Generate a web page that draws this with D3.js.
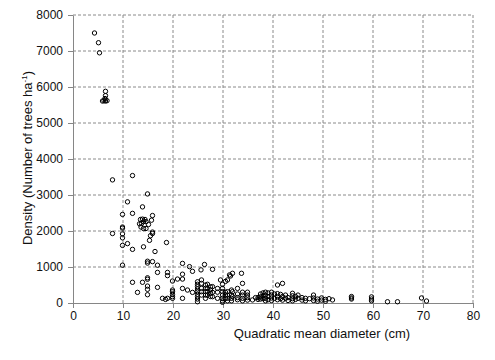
<!DOCTYPE html>
<html>
<head>
<meta charset="utf-8">
<script src="https://cdn.jsdelivr.net/npm/d3@7"></script>
<style>
  body { margin: 0; background: #fff; }
  svg { font-family: Arial, "Liberation Sans", sans-serif; }
</style>
</head>
<body>
<svg id="drawing_region"></svg>
<script>
// quadratic mean diameter (cm) and density (trees/ha)
const qmd = [
  4.3, 5.1, 5.3, 6.5, 6.5, 5.9, 6.2, 6.5, 6.8, 6.4, 7.9, 11.9,
  14.9, 10.9, 13.9, 9.9, 11.9, 15.9, 13.5, 13.9, 14.4, 15.7, 14.1, 14.6,
  13.3, 13.7, 15.1, 13.6, 14.1, 14.6, 9.9, 9.9, 15.9, 15.9, 7.9, 9.9,
  9.9, 15.5, 15.3, 10.9, 9.9, 14.1, 11.9, 16.4, 18.7, 14.9, 14.9, 15.9,
  16.9, 9.9, 21.9, 23.3, 23.9, 26.3, 25.6, 27.9, 16.9, 16.9, 14.9, 14.9,
  14.9, 14.9, 14.9, 11.9, 13.9, 12.9, 17.9, 18.5, 18.9, 18.9, 18.9, 19.9,
  19.9, 19.9, 19.9, 19.9, 19.9, 20.9, 21.9, 21.9, 21.9, 21.9, 22.9, 23.9,
  24.9, 24.9, 24.9, 24.9, 24.9, 24.9, 24.9, 24.9, 24.9, 25.7, 25.7, 25.7,
  25.7, 25.7, 26.5, 26.5, 26.5, 26.5, 26.5, 26.9, 26.9, 26.9, 26.9, 27.5,
  27.5, 27.5, 27.5, 27.9, 27.9, 27.9, 28.9, 28.9, 28.9, 29.5, 29.9, 29.9,
  29.9, 29.9, 29.9, 29.9, 29.9, 30.5, 30.5, 30.5, 30.5, 30.9, 30.9, 30.9,
  30.9, 30.9, 31.3, 31.5, 31.7, 31.7, 31.7, 31.7, 31.9, 31.9, 31.9, 32.9,
  32.9, 32.9, 32.9, 33.7, 33.9, 33.9, 33.9, 33.9, 33.9, 34.9, 34.9, 34.9,
  34.9, 35.9, 36.5, 37.0, 37.0, 37.5, 37.5, 37.5, 38.0, 38.0, 38.0, 38.5,
  38.5, 38.5, 38.5, 39.0, 39.0, 39.0, 39.7, 39.7, 39.7, 39.7, 40.3, 40.3,
  40.9, 40.9, 40.9, 40.9, 41.5, 41.5, 41.9, 41.9, 41.9, 42.5, 42.5, 43.0,
  43.0, 43.9, 43.9, 43.9, 43.9, 44.5, 44.5, 45.0, 45.0, 45.8, 45.8, 46.5,
  46.5, 47.3, 48.1, 48.1, 48.1, 48.9, 48.9, 49.7, 49.7, 50.5, 50.5, 51.2,
  51.9, 55.7, 55.7, 55.7, 59.7, 59.7, 59.7, 62.9, 64.9, 69.7, 70.7
];
const density = [
  7500, 7230, 6950, 5880, 5760, 5610, 5620, 5610, 5620, 5680, 3420, 3540,
  3030, 2810, 2670, 2460, 2490, 2430, 2320, 2330, 2320, 2300, 2260, 2260,
  2200, 2210, 2180, 2110, 2070, 2070, 2110, 2080, 1970, 1930, 1930, 1920,
  1810, 1870, 1740, 1650, 1600, 1560, 1490, 1430, 1680, 1160, 1110, 1150,
  1050, 1050, 1100, 1010, 880, 1070, 920, 935, 850, 435, 700, 660,
  470, 380, 230, 575, 575, 295, 130, 100, 850, 760, 130, 610,
  360, 315, 240, 175, 130, 665, 800, 665, 405, 130, 360, 295,
  590, 520, 455, 390, 315, 240, 175, 110, 35, 640, 545, 405,
  315, 220, 500, 405, 315, 220, 130, 520, 405, 315, 220, 450,
  360, 270, 180, 455, 295, 175, 405, 300, 130, 640, 520, 405,
  315, 220, 130, 60, 20, 600, 300, 220, 130, 640, 315, 220,
  130, 60, 780, 750, 360, 220, 130, 60, 825, 315, 180, 405,
  250, 150, 90, 825, 545, 300, 220, 130, 60, 300, 220, 150,
  80, 85, 150, 150, 100, 250, 170, 110, 280, 200, 120, 300,
  220, 130, 60, 280, 180, 90, 300, 220, 140, 70, 250, 130,
  500, 260, 170, 90, 240, 120, 545, 180, 80, 220, 130, 150,
  70, 270, 200, 120, 60, 180, 100, 220, 130, 150, 80, 130,
  60, 120, 220, 140, 70, 110, 50, 140, 80, 100, 50, 120,
  85, 180, 140, 110, 170, 110, 60, 35, 35, 140, 55
];
const xTicks = [0, 10, 20, 30, 40, 50, 60, 70, 80];
const yTicks = [0, 1000, 2000, 3000, 4000, 5000, 6000, 7000, 8000];

const config = {
    width: 495,
    height: 360,
    margin: {top: 15, right: 22, bottom: 57, left: 73}
};
const inner_w = config.width - config.margin.left - config.margin.right;
const inner_h = config.height - config.margin.top - config.margin.bottom;

const svg = d3.select('#drawing_region')
    .attr('width', config.width)
    .attr('height', config.height);

const chart = svg.append('g')
    .attr('transform', `translate(${config.margin.left}, ${config.margin.top})`);

const xscale = d3.scaleLinear().domain([0, 80]).range([0, inner_w]);
const yscale = d3.scaleLinear().domain([0, 8000]).range([inner_h, 0]);

// dashed grid
chart.append('g').selectAll('line')
    .data(xTicks.slice(1))
    .join('line')
    .attr('x1', d => xscale(d)).attr('x2', d => xscale(d))
    .attr('y1', 0).attr('y2', inner_h)
    .attr('stroke', '#8a8a8a')
    .attr('stroke-dasharray', '3,2');

chart.append('g').selectAll('line')
    .data(yTicks.slice(1))
    .join('line')
    .attr('x1', 0).attr('x2', inner_w)
    .attr('y1', d => yscale(d)).attr('y2', d => yscale(d))
    .attr('stroke', '#8a8a8a')
    .attr('stroke-dasharray', '3,2');

// axes
const xaxis = chart.append('g')
    .attr('transform', `translate(0, ${inner_h})`)
    .call(d3.axisBottom(xscale).tickValues(xTicks).tickFormat(d3.format('d'))
        .tickSize(5).tickPadding(3).tickSizeOuter(0));
const yaxis = chart.append('g')
    .call(d3.axisLeft(yscale).tickValues(yTicks).tickFormat(d3.format('d'))
        .tickSize(5).tickPadding(5).tickSizeOuter(0));

[xaxis, yaxis].forEach(ax => {
    ax.select('.domain').attr('stroke', '#868686');
    ax.selectAll('.tick line').attr('stroke', '#868686');
    ax.selectAll('.tick text')
        .attr('fill', '#111')
        .style('font-size', '12px')
        .style('font-family', 'Arial, "Liberation Sans", sans-serif');
});

// points
chart.append('g').selectAll('circle')
    .data(qmd.map((d, i) => ({x: d, y: density[i]})))
    .join('circle')
    .attr('cx', d => xscale(d.x))
    .attr('cy', d => yscale(d.y))
    .attr('r', 2.2)
    .attr('fill', 'none')
    .attr('stroke', '#000')
    .attr('stroke-width', 1);

// axis titles
svg.append('text')
    .attr('x', 322)
    .attr('y', 338)
    .attr('text-anchor', 'middle')
    .attr('fill', '#111')
    .style('font-size', '13px')
    .text('Quadratic mean diameter (cm)');

const ytitle = svg.append('text')
    .attr('transform', 'translate(32, 158) rotate(-90)')
    .attr('text-anchor', 'middle')
    .attr('fill', '#111')
    .style('font-size', '13px');
ytitle.append('tspan').text('Density (Number of trees ha');
ytitle.append('tspan').attr('dy', -5).style('font-size', '8px').text('-1');
ytitle.append('tspan').attr('dy', 5).text(')');
</script>
</body>
</html>
